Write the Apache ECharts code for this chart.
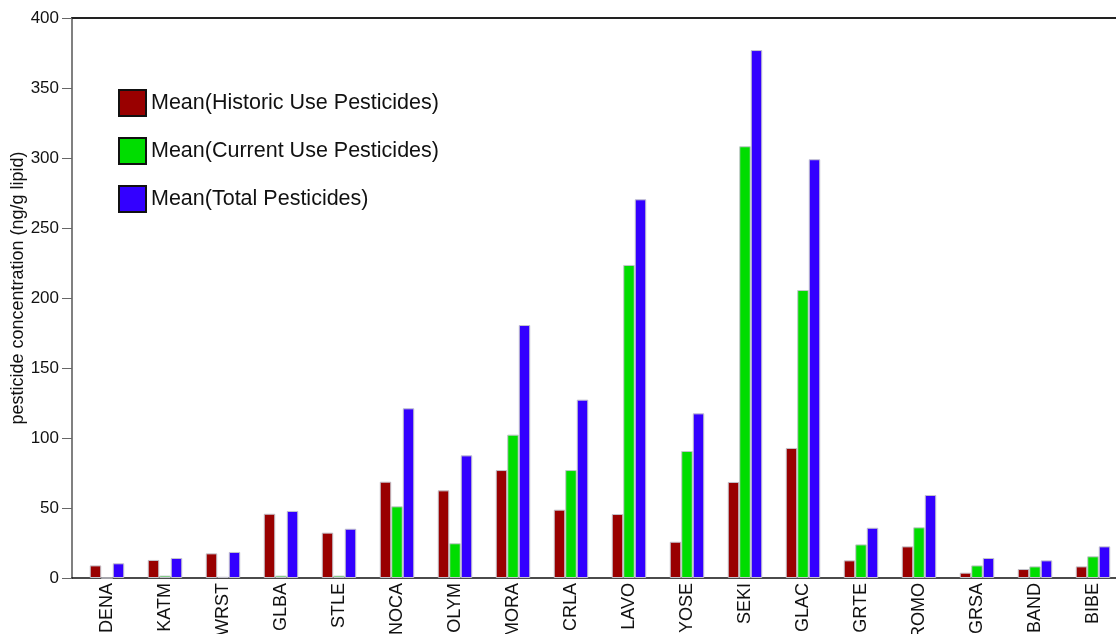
<!DOCTYPE html>
<html><head><meta charset="utf-8">
<script src="https://cdn.jsdelivr.net/npm/echarts@6/dist/echarts.min.js"></script>
<style>html,body{margin:0;padding:0;background:#fff}#c{width:1116px;height:634px}</style>
</head><body><div id="c"></div>
<script>
const categories = ['DENA','KATM','WRST','GLBA','STLE','NOCA','OLYM','MORA','CRLA','LAVO','YOSE','SEKI','GLAC','GRTE','ROMO','GRSA','BAND','BIBE'];
const historicUse = [9.0, 12.9, 17.6, 45.9, 32.4, 68.8, 62.6, 77.1, 48.8, 45.7, 25.9, 68.6, 92.9, 12.6, 22.6, 3.8, 6.4, 8.3];
const currentUse = [0.0, 1.7, 0.9, 1.7, 1.7, 51.2, 24.8, 102.4, 77.1, 223.6, 90.7, 308.4, 205.7, 24.0, 36.2, 9.0, 8.3, 15.5];
const totalPest = [10.5, 14.3, 18.6, 47.9, 35.2, 121.2, 87.6, 180.7, 127.4, 270.5, 117.6, 377.1, 299.1, 35.9, 59.3, 14.3, 12.6, 22.6];
const seriesNames = ['Mean(Historic Use Pesticides)', 'Mean(Current Use Pesticides)', 'Mean(Total Pesticides)'];
const yTicks = {min: 0, max: 400, interval: 50};

const FONT = '"Liberation Sans", Arial, sans-serif';
const colors = ['#990000', '#00dd00', '#3300ff'];
const chart = echarts.init(document.getElementById('c'));
const mk = (name, data, color) => ({
  name, type: 'bar', data, xAxisIndex: 0, yAxisIndex: 0,
  barWidth: 11.5, barGap: '0%',
  itemStyle: {color, borderColor: '#c4c4cc', borderWidth: 1},
  emphasis: {disabled: true}
});
chart.setOption({
  animation: false,
  textStyle: {fontFamily: FONT},
  grid: [
    {left: 78, top: 18, width: 1044, height: 560, containLabel: false, outerBoundsMode: 'none'},
    {left: 72, top: 18, right: 0, height: 560, containLabel: false, outerBoundsMode: 'none'}
  ],
  legend: {
    orient: 'vertical', left: 118, top: 89, padding: 0,
    itemWidth: 27, itemHeight: 26, itemGap: 20,
    icon: 'rect',
    itemStyle: {borderColor: '#111', borderWidth: 2},
    textStyle: {fontSize: 21.5, color: '#111', fontFamily: FONT},
    data: seriesNames
  },
  xAxis: [
    {type: 'category', gridIndex: 0, data: categories,
     axisLine: {show: false}, axisTick: {show: false}, splitLine: {show: false},
     axisLabel: {rotate: 90, fontSize: 18, color: '#111', margin: 5, fontFamily: FONT, interval: 0}},
    {type: 'value', gridIndex: 1, min: 0, max: 1, position: 'bottom',
     axisLine: {show: true, lineStyle: {color: '#111', width: 1.5}},
     axisTick: {show: false}, axisLabel: {show: false}, splitLine: {show: false}},
    {type: 'value', gridIndex: 1, min: 0, max: 1, position: 'top',
     axisLine: {show: true, lineStyle: {color: '#222', width: 2}},
     axisTick: {show: false}, axisLabel: {show: false}, splitLine: {show: false}}
  ],
  yAxis: [
    {type: 'value', gridIndex: 0, min: yTicks.min, max: yTicks.max, interval: yTicks.interval, show: false},
    {type: 'value', gridIndex: 1, min: yTicks.min, max: yTicks.max, interval: yTicks.interval,
     name: 'pesticide concentration (ng/g lipid)', nameLocation: 'middle', nameGap: 45, nameMoveOverlap: false,
     nameTextStyle: {fontSize: 18, color: '#111', fontFamily: FONT, padding: [0, 0, 0, 20]},
     axisLine: {show: true, lineStyle: {color: '#808080', width: 2}},
     axisTick: {show: true, length: 10, lineStyle: {color: '#666', width: 1}},
     axisLabel: {fontSize: 17, color: '#111', margin: 13, fontFamily: FONT},
     splitLine: {show: false}}
  ],
  series: [
    mk(seriesNames[0], historicUse, colors[0]),
    mk(seriesNames[1], currentUse, colors[1]),
    mk(seriesNames[2], totalPest, colors[2])
  ]
});
</script></body></html>
